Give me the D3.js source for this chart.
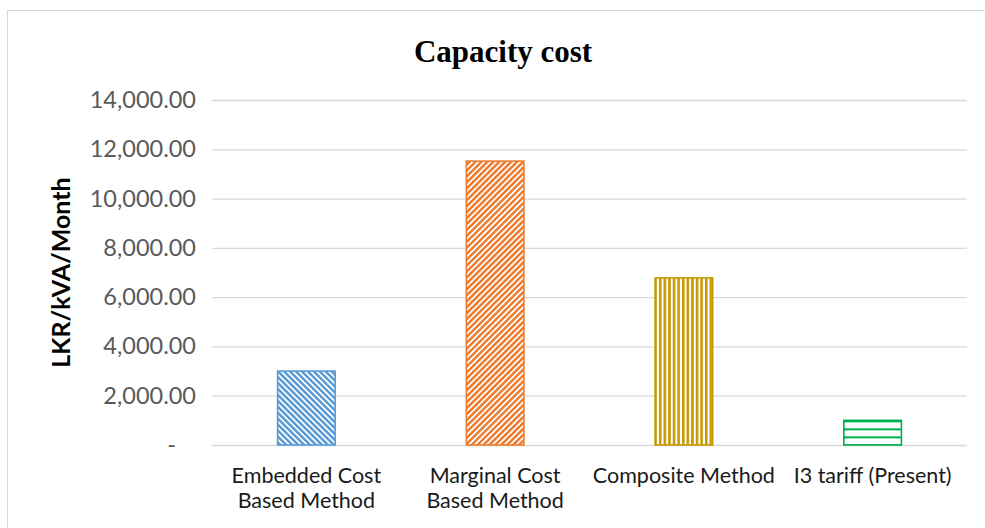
<!DOCTYPE html>
<html>
<head>
<meta charset="utf-8">
<script src="https://cdn.jsdelivr.net/npm/d3@7"></script>
<style>
  html, body { margin: 0; padding: 0; background: #fff; }
  svg { display: block; }
</style>
</head>
<body>
<svg id="chart" width="985" height="528"></svg>
<script>
// Capacity cost by method (LKR/kVA/Month)
const categories = [
  ["Embedded Cost", "Based Method"],
  ["Marginal Cost", "Based Method"],
  ["Composite Method"],
  ["I3 tariff (Present)"]
];
const values = [3000, 11520, 6780, 1000];
const colors = ["#5B9BD5", "#ED7D31", "#C49A00", "#00B050"];
const patternKinds = ["downDiag", "upDiag", "vertical", "horizontal"];
const yTicks = [0, 2000, 4000, 6000, 8000, 10000, 12000, 14000];

const svg = d3.select("#chart");
const W = 985, H = 528;
const margin = { left: 212, right: 18, top: 100, bottom: 83 };
const uiFont = "Lato, 'Open Sans', sans-serif";

// chart frame
svg.append("rect")
  .attr("x", 7.5).attr("y", 10.5)
  .attr("width", W + 10).attr("height", H + 10)
  .attr("fill", "#fff").attr("stroke", "#D9D9D9").attr("stroke-width", 1);

const keys = categories.map((c, i) => i);
const x = d3.scaleBand()
  .domain(keys)
  .range([margin.left, W - margin.right])
  .paddingInner(0.687)
  .paddingOuter(0.3435);

const y = d3.scaleLinear()
  .domain([0, 14000])
  .range([H - margin.bottom, margin.top]);

// fill patterns
const defs = svg.append("defs");
patternKinds.forEach((kind, i) => {
  const c = colors[i];
  let p;
  if (kind === "downDiag" || kind === "upDiag") {
    p = defs.append("pattern")
      .attr("id", "pat" + i)
      .attr("patternUnits", "userSpaceOnUse")
      .attr("width", 4.2).attr("height", 4.2)
      .attr("patternTransform", kind === "downDiag" ? "rotate(-45)" : "rotate(45)");
    p.append("rect").attr("width", 4.2).attr("height", 4.2).attr("fill", "#fff");
    p.append("rect").attr("x", 0).attr("y", 0).attr("width", 2.5).attr("height", 4.2).attr("fill", c);
  } else if (kind === "vertical") {
    p = defs.append("pattern")
      .attr("id", "pat" + i)
      .attr("patternUnits", "userSpaceOnUse")
      .attr("x", x(i))
      .attr("width", 4.6).attr("height", 5);
    p.append("rect").attr("width", 4.6).attr("height", 5).attr("fill", "#fff");
    p.append("rect").attr("x", 0).attr("y", 0).attr("width", 2.6).attr("height", 5).attr("fill", c);
  } else {
    p = defs.append("pattern")
      .attr("id", "pat" + i)
      .attr("patternUnits", "userSpaceOnUse")
      .attr("y", y(values[i]))
      .attr("width", 8).attr("height", 8);
    p.append("rect").attr("width", 8).attr("height", 8).attr("fill", "#fff");
    p.append("rect").attr("x", 0).attr("y", 0).attr("width", 8).attr("height", 2).attr("fill", c);
  }
});

// gridlines and value axis
const yAxis = d3.axisLeft(y)
  .tickValues(yTicks)
  .tickSize(-(W - margin.right - margin.left))
  .tickPadding(16)
  .tickFormat(d => d === 0 ? "-" : d3.format(",.2f")(d));

const gy = svg.append("g")
  .attr("transform", `translate(${margin.left},0)`)
  .call(yAxis);
gy.select(".domain").remove();
gy.selectAll(".tick line").attr("stroke", "#D9D9D9").attr("stroke-width", 1.3);
gy.selectAll(".tick text")
  .attr("fill", "#595959")
  .style("font-family", uiFont)
  .style("font-size", "23.5px");
gy.selectAll(".tick").filter(d => d === 0).select("text").attr("dx", -20);

// bars
svg.append("g").selectAll("rect")
  .data(values)
  .join("rect")
  .attr("x", (d, i) => x(i) + 0.75)
  .attr("y", d => y(d))
  .attr("width", x.bandwidth() - 1.5)
  .attr("height", d => y(0) - y(d))
  .attr("fill", (d, i) => `url(#pat${i})`)
  .attr("stroke", (d, i) => colors[i])
  .attr("stroke-width", 1.6);

// category labels
const xl = svg.append("g");
categories.forEach((lines, i) => {
  const cx = x(i) + x.bandwidth() / 2;
  const t = xl.append("text")
    .attr("x", cx)
    .attr("y", 483)
    .attr("text-anchor", "middle")
    .attr("fill", "#1a1a1a")
    .style("font-family", uiFont)
    .style("font-size", "21.5px");
  lines.forEach((ln, k) => {
    t.append("tspan").attr("x", cx).attr("dy", k === 0 ? 0 : 25).text(ln);
  });
});

// title
svg.append("text")
  .attr("x", 503).attr("y", 62)
  .attr("text-anchor", "middle")
  .style("font-family", "'Liberation Serif', 'Times New Roman', serif")
  .style("font-weight", "bold")
  .style("font-size", "31px")
  .attr("fill", "#000")
  .text("Capacity cost");

// value axis title
svg.append("text")
  .attr("transform", `translate(70,${(y(0) + y(14000)) / 2}) rotate(-90)`)
  .attr("text-anchor", "middle")
  .style("font-family", uiFont)
  .style("font-weight", "bold")
  .style("font-size", "25px")
  .attr("fill", "#000")
  .text("LKR/kVA/Month");
</script>
</body>
</html>
